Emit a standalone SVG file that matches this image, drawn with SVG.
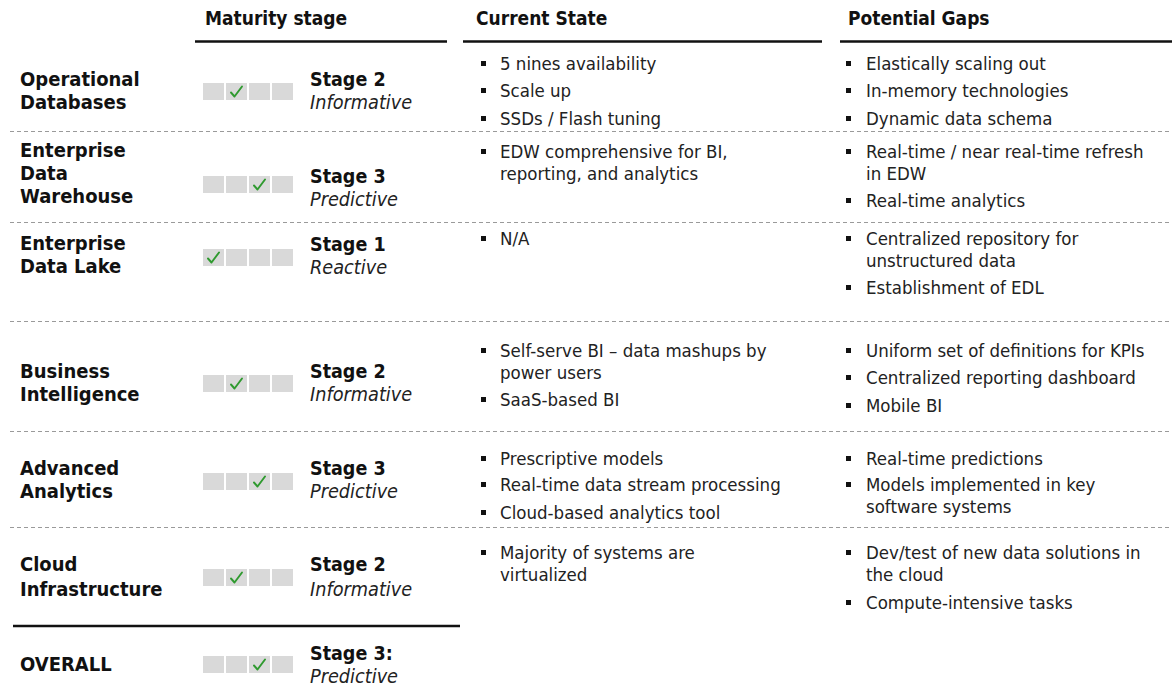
<svg xmlns="http://www.w3.org/2000/svg" width="1172" height="687" viewBox="0 0 1172 687">
  <style>
    text { font-family: "DejaVu Sans Condensed", "DejaVu Sans", sans-serif; font-stretch: condensed; }
    .hdr { font-size: 19px; font-weight: bold; fill: #111; }
    .lbl { font-size: 20px; font-weight: bold; fill: #111; }
    .stg { font-size: 19.5px; font-weight: bold; fill: #111; }
    .sub { font-size: 19.7px; font-style: italic; fill: #222; }
    .txt { font-size: 18.5px; fill: #222; }
    .box { fill: #d9d9d9; }
    .chk { fill: none; stroke: #2f9a2f; stroke-width: 1.9; stroke-linecap: round; stroke-linejoin: round; }
    .bul { fill: #111; }
    .rule { stroke: #111; stroke-width: 2.5; }
    .dash { stroke: #9a9a9a; stroke-width: 1; stroke-dasharray: 4 3; }
  </style>
  <defs>
    <!-- four-step maturity scale -->
    <g id="scale">
      <rect class="box" x="0" y="0" width="21" height="17"/>
      <rect class="box" x="23" y="0" width="21" height="17"/>
      <rect class="box" x="46" y="0" width="21" height="17"/>
      <rect class="box" x="69" y="0" width="21" height="17"/>
    </g>
    <path id="tick" class="chk" d="M-5.5 1 L-2 5 L5.5 -5"/>
    <rect id="sq" class="bul" x="0" y="0" width="5" height="5"/>
  </defs>

  <!-- column headers -->
  <g id="headers">
    <text class="hdr" x="205" y="25">Maturity stage</text>
    <text class="hdr" x="476" y="25">Current State</text>
    <text class="hdr" x="848" y="25">Potential Gaps</text>
    <line class="rule" x1="195" y1="41.5" x2="447" y2="41.5"/>
    <line class="rule" x1="463" y1="41.5" x2="822" y2="41.5"/>
    <line class="rule" x1="840" y1="41.5" x2="1172" y2="41.5"/>
  </g>

  <!-- row separators -->
  <g id="connectors">
    <line class="dash" x1="10" y1="131.5" x2="1172" y2="131.5"/>
    <line class="dash" x1="10" y1="222.5" x2="1172" y2="222.5"/>
    <line class="dash" x1="10" y1="321.5" x2="1172" y2="321.5"/>
    <line class="dash" x1="10" y1="431.5" x2="1172" y2="431.5"/>
    <line class="dash" x1="10" y1="527.5" x2="1172" y2="527.5"/>
    <line class="rule" x1="13" y1="626" x2="460" y2="626"/>
  </g>

  <!-- Operational Databases -->
  <g id="row-operational">
    <text class="lbl" x="20" y="86">Operational</text>
    <text class="lbl" x="20" y="109">Databases</text>
    <use href="#scale" x="203" y="83"/>
    <use href="#tick" x="236.5" y="91.5"/>
    <text class="stg" x="310" y="86">Stage 2</text>
    <text class="sub" x="310" y="109">Informative</text>
    <use href="#sq" x="481" y="61"/><text class="txt" x="500" y="70">5 nines availability</text>
    <use href="#sq" x="481" y="88"/><text class="txt" x="500" y="97">Scale up</text>
    <use href="#sq" x="481" y="116"/><text class="txt" x="500" y="125">SSDs / Flash tuning</text>
    <use href="#sq" x="846" y="61"/><text class="txt" x="866" y="70">Elastically scaling out</text>
    <use href="#sq" x="846" y="88"/><text class="txt" x="866" y="97">In-memory technologies</text>
    <use href="#sq" x="846" y="116"/><text class="txt" x="866" y="125">Dynamic data schema</text>
  </g>

  <!-- Enterprise Data Warehouse -->
  <g id="row-edw">
    <text class="lbl" x="20" y="157">Enterprise</text>
    <text class="lbl" x="20" y="180">Data</text>
    <text class="lbl" x="20" y="203">Warehouse</text>
    <use href="#scale" x="203" y="176"/>
    <use href="#tick" x="259.5" y="184.5"/>
    <text class="stg" x="310" y="183">Stage 3</text>
    <text class="sub" x="310" y="206">Predictive</text>
    <use href="#sq" x="481" y="149"/><text class="txt" x="500" y="158">EDW comprehensive for BI,</text>
    <text class="txt" x="500" y="180">reporting, and analytics</text>
    <use href="#sq" x="846" y="149"/><text class="txt" x="866" y="158">Real-time / near real-time refresh</text>
    <text class="txt" x="866" y="180">in EDW</text>
    <use href="#sq" x="846" y="198"/><text class="txt" x="866" y="207">Real-time analytics</text>
  </g>

  <!-- Enterprise Data Lake -->
  <g id="row-edl">
    <text class="lbl" x="20" y="250">Enterprise</text>
    <text class="lbl" x="20" y="273">Data Lake</text>
    <use href="#scale" x="203" y="249"/>
    <use href="#tick" x="213.5" y="257.5"/>
    <text class="stg" x="310" y="251">Stage 1</text>
    <text class="sub" x="310" y="274">Reactive</text>
    <use href="#sq" x="481" y="236"/><text class="txt" x="500" y="245">N/A</text>
    <use href="#sq" x="846" y="236"/><text class="txt" x="866" y="245">Centralized repository for</text>
    <text class="txt" x="866" y="267">unstructured data</text>
    <use href="#sq" x="846" y="285"/><text class="txt" x="866" y="294">Establishment of EDL</text>
  </g>

  <!-- Business Intelligence -->
  <g id="row-bi">
    <text class="lbl" x="20" y="378">Business</text>
    <text class="lbl" x="20" y="401">Intelligence</text>
    <use href="#scale" x="203" y="375"/>
    <use href="#tick" x="236.5" y="383.5"/>
    <text class="stg" x="310" y="378">Stage 2</text>
    <text class="sub" x="310" y="401">Informative</text>
    <use href="#sq" x="481" y="348"/><text class="txt" x="500" y="357">Self-serve BI – data mashups by</text>
    <text class="txt" x="500" y="379">power users</text>
    <use href="#sq" x="481" y="397"/><text class="txt" x="500" y="406">SaaS-based BI</text>
    <use href="#sq" x="846" y="348"/><text class="txt" x="866" y="357">Uniform set of definitions for KPIs</text>
    <use href="#sq" x="846" y="375"/><text class="txt" x="866" y="384">Centralized reporting dashboard</text>
    <use href="#sq" x="846" y="403"/><text class="txt" x="866" y="412">Mobile BI</text>
  </g>

  <!-- Advanced Analytics -->
  <g id="row-analytics">
    <text class="lbl" x="20" y="475">Advanced</text>
    <text class="lbl" x="20" y="498">Analytics</text>
    <use href="#scale" x="203" y="473"/>
    <use href="#tick" x="259.5" y="481.5"/>
    <text class="stg" x="310" y="475">Stage 3</text>
    <text class="sub" x="310" y="498">Predictive</text>
    <use href="#sq" x="481" y="456"/><text class="txt" x="500" y="465">Prescriptive models</text>
    <use href="#sq" x="481" y="482"/><text class="txt" x="500" y="491">Real-time data stream processing</text>
    <use href="#sq" x="481" y="510"/><text class="txt" x="500" y="519">Cloud-based analytics tool</text>
    <use href="#sq" x="846" y="456"/><text class="txt" x="866" y="465">Real-time predictions</text>
    <use href="#sq" x="846" y="482"/><text class="txt" x="866" y="491">Models implemented in key</text>
    <text class="txt" x="866" y="513">software systems</text>
  </g>

  <!-- Cloud Infrastructure -->
  <g id="row-cloud">
    <text class="lbl" x="20" y="571">Cloud</text>
    <text class="lbl" x="20" y="596">Infrastructure</text>
    <use href="#scale" x="203" y="569"/>
    <use href="#tick" x="236.5" y="577.5"/>
    <text class="stg" x="310" y="571">Stage 2</text>
    <text class="sub" x="310" y="596">Informative</text>
    <use href="#sq" x="481" y="550"/><text class="txt" x="500" y="559">Majority of systems are</text>
    <text class="txt" x="500" y="581">virtualized</text>
    <use href="#sq" x="846" y="550"/><text class="txt" x="866" y="559">Dev/test of new data solutions in</text>
    <text class="txt" x="866" y="581">the cloud</text>
    <use href="#sq" x="846" y="600"/><text class="txt" x="866" y="609">Compute-intensive tasks</text>
  </g>

  <!-- overall rating -->
  <g id="row-overall">
    <text class="lbl" x="20" y="671">OVERALL</text>
    <use href="#scale" x="203" y="656"/>
    <use href="#tick" x="259.5" y="664.5"/>
    <text class="stg" x="310" y="660">Stage 3:</text>
    <text class="sub" x="310" y="683">Predictive</text>
  </g>
</svg>
